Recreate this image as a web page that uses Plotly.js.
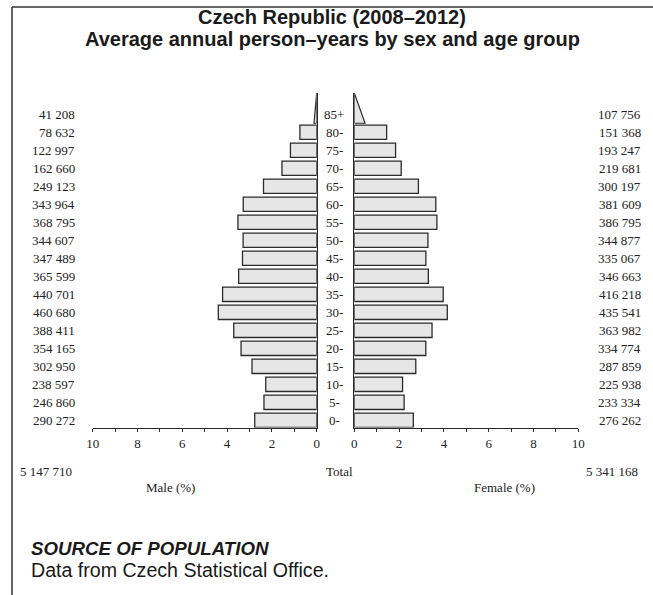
<!DOCTYPE html>
<html>
<head>
<meta charset="utf-8">
<script src="https://cdn.plot.ly/plotly-3.0.1.min.js"></script>
<style>html,body{margin:0;padding:0;background:#fff;}#chart{width:653px;height:595px;}</style>
</head>
<body>
<div id="chart"></div>
<script>
// ---- data ----
const ageGroups = ['0-','5-','10-','15-','20-','25-','30-','35-','40-','45-','50-','55-','60-','65-','70-','75-','80-','85+'];
const maleCounts = [290272, 246860, 238597, 302950, 354165, 388411, 460680, 440701, 365599, 347489, 344607, 368795, 343964, 249123, 162660, 122997, 78632, 41208];
const femaleCounts = [276262, 233334, 225938, 287859, 334774, 363982, 435541, 416218, 346663, 335067, 344877, 386795, 381609, 300197, 219681, 193247, 151368, 107756];
const maleTotal = 5147710;
const femaleTotal = 5341168;
// base of the open-ended (85+) triangle, in % as drawn: [male, female]
const openEndedBase = [0.12, 0.48];
const axisTicks = [0, 2, 4, 6, 8, 10];

// ---- helpers ----
const W = 653, H = 595;
const px = v => v / W;
const py = v => 1 - v / H;
const fmt = n => String(n).replace(/\B(?=(\d{3})+(?!\d))/g, ' ');
const grand = maleTotal + femaleTotal;
const nBars = ageGroups.length - 1;            // closed groups drawn as bars
const idx = ageGroups.slice(0, nBars).map((_, i) => i);
const malePct = maleCounts.slice(0, nBars).map(v => v / grand * 100);
const femalePct = femaleCounts.slice(0, nBars).map(v => v / grand * 100);
const topIdx = ageGroups.length - 1;
const yTop = 18.18;

const serif = {family: 'Liberation Serif, Times New Roman, serif', size: 13, color: '#222'};
const sans = 'Liberation Sans, Arial, Helvetica, sans-serif';
const barFill = '#e6e6e6', edge = '#2b2b2b';

const traces = [
  {type: 'bar', orientation: 'h', x: malePct, y: idx, xaxis: 'x', yaxis: 'y', width: 0.8,
   marker: {color: barFill, line: {color: edge, width: 1.3}}, hoverinfo: 'skip'},
  {type: 'bar', orientation: 'h', x: femalePct, y: idx, xaxis: 'x2', yaxis: 'y2', width: 0.8,
   marker: {color: barFill, line: {color: edge, width: 1.3}}, hoverinfo: 'skip'},
  {type: 'scatter', mode: 'lines', x: [0, openEndedBase[0], 0, 0], y: [topIdx - 0.5, topIdx - 0.5, yTop, topIdx - 0.5],
   fill: 'toself', fillcolor: barFill, line: {color: edge, width: 1.2}, xaxis: 'x', yaxis: 'y', hoverinfo: 'skip'},
  {type: 'scatter', mode: 'lines', x: [0, openEndedBase[1], 0, 0], y: [topIdx - 0.5, topIdx - 0.5, yTop, topIdx - 0.5],
   fill: 'toself', fillcolor: barFill, line: {color: edge, width: 1.2}, xaxis: 'x2', yaxis: 'y2', hoverinfo: 'skip'}
];

const xCommon = {
  tickvals: axisTicks, ticktext: axisTicks.map(String), ticks: 'outside', ticklen: 3, tickwidth: 1, tickcolor: edge,
  minor: {dtick: 1, tick0: 0, ticks: 'outside', ticklen: 3, tickwidth: 1, tickcolor: edge, showgrid: false},
  showline: true, linecolor: edge, linewidth: 1.5, showgrid: false, zeroline: false,
  tickfont: serif, fixedrange: true
};
const yCommon = {
  domain: [py(427.5), py(93)], range: [-0.4, yTop], showline: true, linecolor: edge, linewidth: 1.5,
  showticklabels: false, ticks: '', showgrid: false, zeroline: false, fixedrange: true
};

const annotations = [];
ageGroups.forEach((g, i) => {
  annotations.push({xref: 'paper', yref: 'y', x: px(77), y: i, text: fmt(maleCounts[i]), xanchor: 'right', yanchor: 'middle', showarrow: false, font: serif});
  annotations.push({xref: 'paper', yref: 'y', x: px(643), y: i, text: fmt(femaleCounts[i]), xanchor: 'right', yanchor: 'middle', showarrow: false, font: serif});
  annotations.push({xref: 'paper', yref: 'y', x: px(334.5), y: i, text: g, xanchor: 'center', yanchor: 'middle', showarrow: false, font: serif});
});
annotations.push(
  {xref: 'paper', yref: 'paper', x: px(18), y: py(471.7), text: fmt(maleTotal), xanchor: 'left', yanchor: 'middle', showarrow: false, font: serif},
  {xref: 'paper', yref: 'paper', x: px(339), y: py(471.7), text: 'Total', xanchor: 'center', yanchor: 'middle', showarrow: false, font: serif},
  {xref: 'paper', yref: 'paper', x: px(639.5), y: py(471.7), text: fmt(femaleTotal), xanchor: 'right', yanchor: 'middle', showarrow: false, font: serif},
  {xref: 'paper', yref: 'paper', x: px(170.5), y: py(487), text: 'Male (%)', xanchor: 'center', yanchor: 'middle', showarrow: false, font: serif},
  {xref: 'paper', yref: 'paper', x: px(504), y: py(487), text: 'Female (%)', xanchor: 'center', yanchor: 'middle', showarrow: false, font: serif},
  {xref: 'paper', yref: 'paper', x: px(332), y: py(16.5), text: '<b>Czech Republic (2008–2012)</b>', xanchor: 'center', yanchor: 'middle', showarrow: false, font: {family: sans, size: 20, color: '#1a1a1a'}},
  {xref: 'paper', yref: 'paper', x: px(332), y: py(39.5), text: '<b>Average annual person–years by sex and age group</b>', xanchor: 'center', yanchor: 'middle', showarrow: false, font: {family: sans, size: 20, color: '#1a1a1a'}},
  {xref: 'paper', yref: 'paper', x: px(29), y: py(548), text: '<b><i>SOURCE OF POPULATION</i></b>', xanchor: 'left', yanchor: 'middle', showarrow: false, font: {family: sans, size: 18.7, color: '#1a1a1a'}},
  {xref: 'paper', yref: 'paper', x: px(29), y: py(570), text: 'Data from Czech Statistical Office.', xanchor: 'left', yanchor: 'middle', showarrow: false, font: {family: sans, size: 19.6, color: '#1a1a1a'}}
);

const layout = {
  width: W, height: H, margin: {l: 0, r: 0, t: 0, b: 0},
  paper_bgcolor: '#fff', plot_bgcolor: 'rgba(0,0,0,0)', showlegend: false,
  xaxis: Object.assign({}, xCommon, {domain: [px(92.7), px(316.7)], range: [10, 0], anchor: 'y'}),
  xaxis2: Object.assign({}, xCommon, {domain: [px(354.3), px(578.3)], range: [0, 10], anchor: 'y2'}),
  yaxis: Object.assign({}, yCommon, {anchor: 'x', side: 'right'}),
  yaxis2: Object.assign({}, yCommon, {anchor: 'x2', side: 'left', matches: 'y'}),
  annotations: annotations,
  shapes: [
    {type: 'line', xref: 'paper', yref: 'paper', x0: px(12), x1: 1, y0: py(7), y1: py(7), line: {color: '#333', width: 1.5}},
    {type: 'line', xref: 'paper', yref: 'paper', x0: px(12), x1: px(12), y0: py(7), y1: 0, line: {color: '#333', width: 1.5}}
  ]
};

Plotly.newPlot('chart', traces, layout, {staticPlot: true, displayModeBar: false});
</script>
</body>
</html>
